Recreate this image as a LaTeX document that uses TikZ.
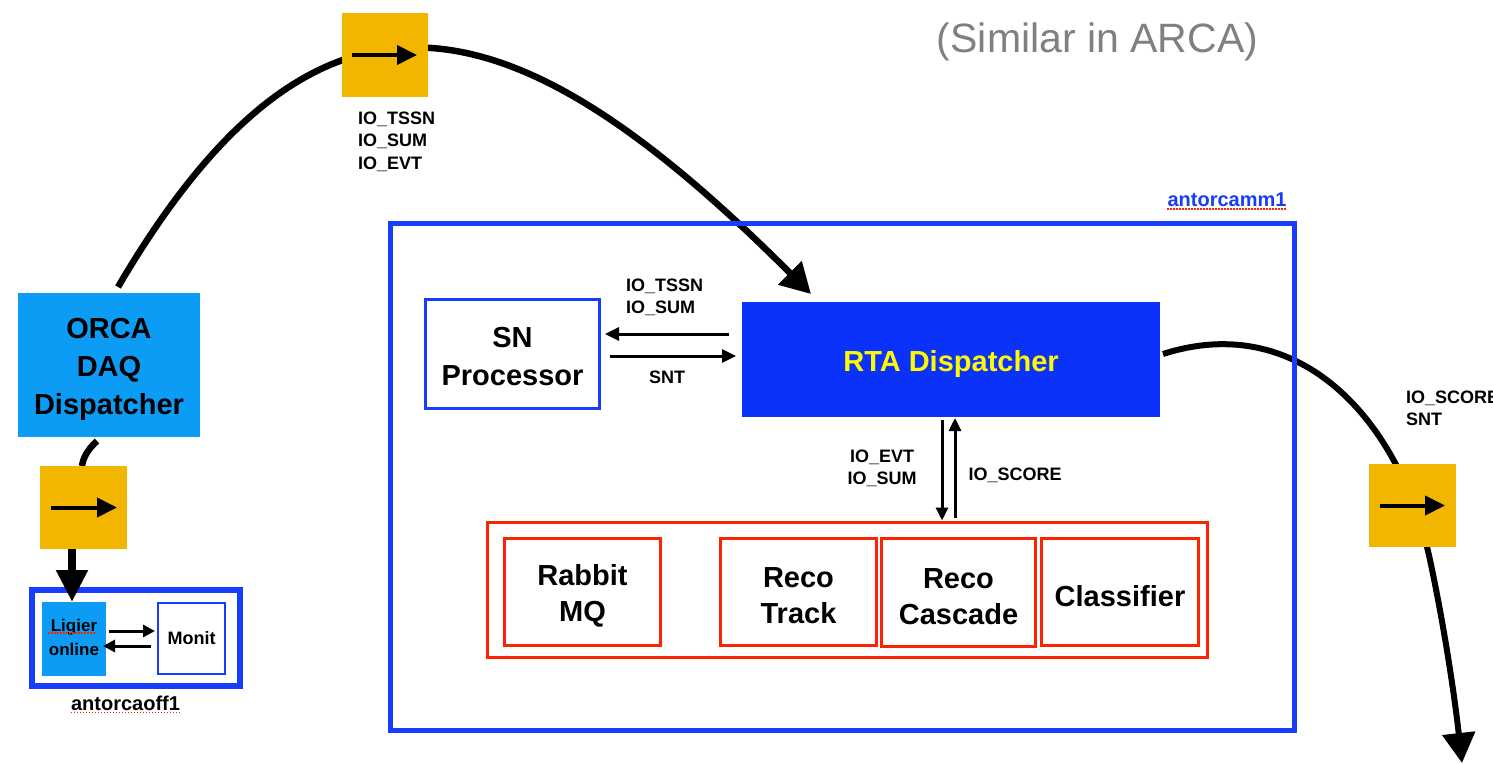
\documentclass[tikz,border=0pt]{standalone}
\usepackage{fontspec}
\setmainfont{Liberation Sans}
\usetikzlibrary{arrows.meta,calc}
\definecolor{yel}{RGB}{242,182,0}
\definecolor{lblue}{RGB}{12,156,245}
\definecolor{rtablue}{RGB}{10,50,250}
\definecolor{bblue}{RGB}{22,62,250}
\definecolor{rred}{RGB}{250,35,5}
\definecolor{gtext}{RGB}{128,128,128}
\definecolor{rtayel}{RGB}{255,250,0}
\pgfdeclarelayer{bg}
\pgfsetlayers{bg,main}
\begin{document}
\begin{tikzpicture}[x=1pt,y=-1pt,
  box/.style={rectangle, inner sep=0pt, outer sep=0pt, align=center},
  bigtxt/.style={font=\fontsize{29}{38}\selectfont\bfseries, inner sep=0pt, align=center},
  redtxt/.style={font=\fontsize{29}{36}\selectfont\bfseries, inner sep=0pt, align=center},
  smalltxt/.style={font=\fontsize{18}{22.5}\selectfont\bfseries, inner sep=0pt, outer sep=0pt},
  yelbox/.style={box, fill=yel, minimum width=87pt, minimum height=84pt},
  bluebox/.style={box, draw=bblue},
  redbox/.style={box, draw=rred, line width=3pt},
  thickcurve/.style={line width=6.5pt, line cap=butt},
  bigtip/.style={-{Triangle[length=30pt,width=32pt]}},
  yarrow/.style={line width=4pt, -{Triangle[length=20pt,width=19pt]}},
  midarrow/.style={line width=3pt, -{Triangle[length=14pt,width=13pt]}},
  vertarrow/.style={line width=3pt, -{Triangle[length=13pt,width=12pt]}},
  smallarrow/.style={line width=3pt, -{Triangle[length=12pt,width=12pt]}},
  spell/.style={rred, line width=1.5pt, dash pattern=on 1.5pt off 1.5pt}
]
\useasboundingbox (0,0) rectangle (1493,763);

% ---- boxes ----
\node[box, fill=lblue, minimum width=182pt, minimum height=144pt] (orca) at (109,365) {};
\node[yelbox, minimum width=86pt] (y1) at (385,55) {};
\node[yelbox, minimum height=83pt] (y2) at (83.5,507.5) {};
\node[yelbox, minimum height=83pt] (y3) at (1412.5,505.5) {};

\node[bluebox, line width=5pt, minimum width=904pt, minimum height=507pt] (mm) at (842.5,477) {};
\node[bluebox, line width=3pt, minimum width=174pt, minimum height=109pt] (sn) at (512.5,354) {};
\node[box, fill=rtablue, minimum width=418pt, minimum height=115pt] (rta) at (951,359.5) {};

\node[box, draw=rred, line width=3pt, minimum width=720pt, minimum height=135pt] (grp) at (847.5,590) {};
\node[redbox, minimum width=156pt, minimum height=107pt] (rab) at (582.5,592) {};
\node[redbox, minimum width=156pt, minimum height=107pt] (trk) at (798.5,592) {};
\node[redbox, minimum width=154pt, minimum height=108pt] (cas) at (958.5,592.5) {};
\node[redbox, minimum width=157pt, minimum height=107pt] (cls) at (1120,592) {};

\node[bluebox, line width=6pt, minimum width=208pt, minimum height=96pt] (off) at (136,638) {};
\node[box, fill=lblue, minimum width=64pt, minimum height=74pt] (lig) at (74,639) {};
\node[bluebox, line width=2pt, minimum width=67pt, minimum height=71pt] (mon) at (191.5,638.5) {};

% ---- box texts ----
\node[bigtxt] (orcaT) at ([yshift=-4pt]orca.center) {ORCA\\DAQ\\Dispatcher};
\node[bigtxt] (snT) at ([yshift=-3pt]sn.center) {SN\\Processor};
\node[bigtxt, text=rtayel] (rtaT) at ([yshift=-4pt]rta.center) {RTA Dispatcher};
\node[redtxt] (rabT) at ([yshift=-4pt]rab.center) {Rabbit\\MQ};
\node[redtxt] (trkT) at ([yshift=-4pt]trk.center) {Reco\\Track};
\node[redtxt] (casT) at ([yshift=-4pt]cas.center) {Reco\\Cascade};
\node[redtxt] (clsT) at ([yshift=-4pt]cls.center) {Classifier};
\node[font=\fontsize{17}{24}\selectfont\bfseries, inner sep=0pt, align=center] (ligT) at ([yshift=2pt]lig.center) {Ligier\\online};
\node[font=\fontsize{18}{22}\selectfont\bfseries, inner sep=0pt] (monT) at (mon.center) {Monit};

% ---- labels ----
\node[smalltxt, anchor=north west, align=left] (topLbl) at (358,111.5) {IO\_TSSN\\IO\_SUM\\IO\_EVT};
\node[smalltxt, anchor=north west, align=left] (snLbl) at (626,278.5) {IO\_TSSN\\IO\_SUM};
\node[smalltxt] (sntLbl) at (667,377) {SNT};
\node[smalltxt, align=center] (evtLbl) at (882,468.5) {IO\_EVT\\IO\_SUM};
\node[smalltxt] (scoreLbl) at (1015,475) {IO\_SCORE};
\node[smalltxt, anchor=north west, align=left] (rLbl) at (1406,390.5) {IO\_SCORE\\SNT};
\node[inner sep=0pt, font=\fontsize{20}{24}\selectfont\bfseries, text=bblue] (mmLbl) at (1227,200) {antorcamm1};
\node[inner sep=0pt, font=\fontsize{20}{24}\selectfont\bfseries] (offLbl) at (125.5,703) {antorcaoff1};
\node[inner sep=0pt, font=\fontsize{41}{48}\selectfont, text=gtext] (sim) at (1097.5,42) {(Similar in ARCA)};

% spell-check underlines
\draw[spell] ([yshift=-2pt]mmLbl.south west) -- ([yshift=-2pt]mmLbl.south east);
\draw[spell] ([yshift=-2pt]offLbl.south west) -- ([yshift=-2pt]offLbl.south east);
\draw[spell] ($(lig.center)+(-26,-6)$) -- ($(lig.center)+(21,-6)$);

% ---- arrows inside yellow boxes ----
\draw[yarrow] ([xshift=-33pt]y1.center) -- ([xshift=32pt]y1.center);
\draw[yarrow] ([xshift=-32.5pt]y2.center) -- ([xshift=33.5pt]y2.center);
\draw[yarrow] ([xshift=-32.5pt]y3.center) -- ([xshift=32.5pt]y3.center);

% ---- curves (behind boxes) ----
\coordinate (rEnd) at (1462,763);
\begin{pgfonlayer}{bg}
\draw[thickcurve, bigtip] ($(orca.north)+(9,-6)$) .. controls (318,-54) and (511,-6) .. ($(rta.north west)+(69,-8)$);
\draw[thickcurve] ($(orca.south)+(-12,4)$) .. controls (88,449) and (83,458) .. ($(y2.north)+(-1.5,0)$);
\draw[thickcurve, line width=6pt, bigtip] ($(rta.east)+(3,-5.5)$) .. controls (1300,310) and (1400,420) .. (1430,560) .. controls (1445,630) and (1455,700) .. (rEnd);
\end{pgfonlayer}

% ---- SN <-> RTA ----
\draw[midarrow] ($(rta.west)+(-13,-25.5)$) -- ($(sn.east)+(5.5,-20)$);
\draw[midarrow] ($(sn.east)+(10.5,2)$) -- ($(rta.west)+(-6,-3.5)$);

% ---- RTA <-> group ----
\coordinate (dA) at ($(rta.south)+(-9,3)$);
\coordinate (dB) at ($(dA |- grp.north)+(0,-2)$);
\draw[vertarrow] (dA) -- (dB);
\coordinate (uA) at ($(rta.south)+(4,1)$);
\coordinate (uB) at ($(uA |- grp.north)+(0,-5)$);
\draw[vertarrow] (uB) -- (uA);

% ---- bottom-left ----
\coordinate (bA) at ($(y2.south)+(-11.5,0)$);
\draw[line width=8pt, -{Triangle[length=32pt,width=30pt]}] (bA) -- (bA |- lig.north);
\draw[smallarrow] ($(lig.east)+(3,-8)$) -- ($(mon.west)+(-3,-7.5)$);
\draw[smallarrow] ($(mon.west)+(-7,7.5)$) -- ($(lig.east)+(-3,7)$);
\end{tikzpicture}
\end{document}
